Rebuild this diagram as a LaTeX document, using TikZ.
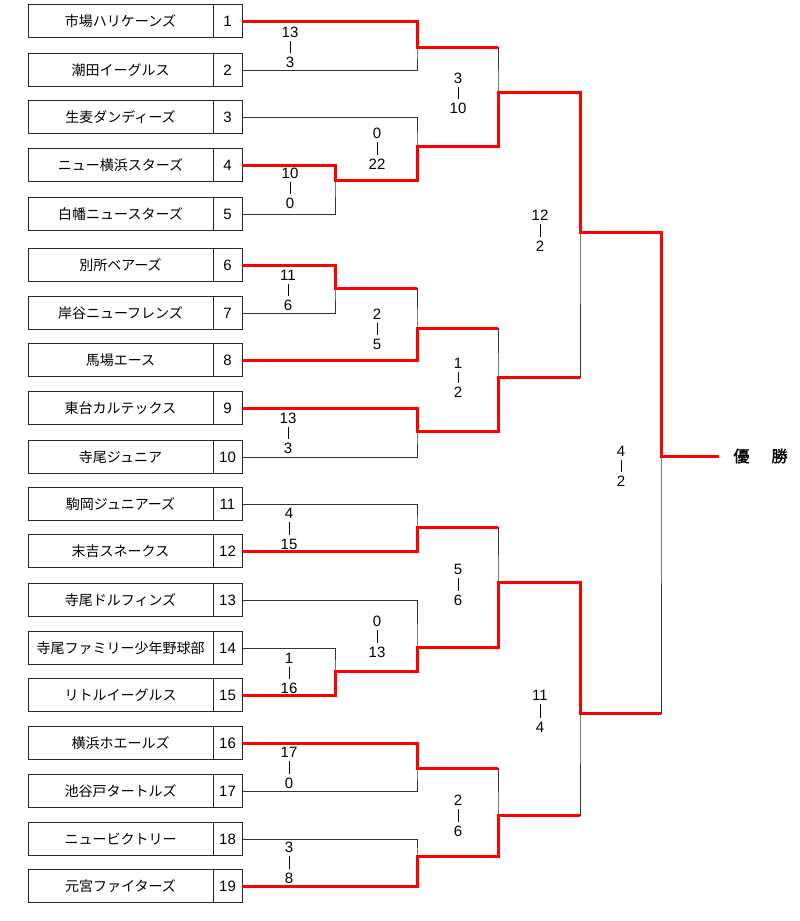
\documentclass[tikz,border=0pt]{standalone}
\usepackage{fontspec}
\setmainfont{Liberation Sans}
\newfontfamily\jp{Noto Sans CJK JP}
\newfontfamily\jpb[FakeBold=1.5]{Noto Sans CJK JP}
\usetikzlibrary{positioning}

\tikzset{
  namebox/.style={draw=black!85, line width=0.8pt, minimum width=185pt, minimum height=33pt, inner sep=0pt, font=\jp\fontsize{14}{14}\selectfont},
  numbox/.style={draw=black!85, line width=0.8pt, minimum width=29pt, minimum height=33pt, inner sep=0pt, font=\fontsize{15}{15}\selectfont},
  bk/.style={black!80, line width=0.8pt},
  win/.style={red, line width=3pt},
  pts/.style={inner sep=3.5pt, font=\fontsize{15}{15}\selectfont},
}

\begin{document}
\begin{tikzpicture}[x=1pt, y=-1pt]
  \useasboundingbox (0,0) rectangle (800,921);

  % teams
  \foreach \i/\y/\team in {1/21/市場ハリケーンズ, 2/70/潮田イーグルス, 3/117/生麦ダンディーズ,
      4/165/ニュー横浜スターズ, 5/214/白幡ニュースターズ, 6/265/別所ベアーズ,
      7/313/岸谷ニューフレンズ, 8/360/馬場エース, 9/408/東台カルテックス,
      10/457/寺尾ジュニア, 11/504/駒岡ジュニアーズ, 12/551/末吉スネークス,
      13/600/寺尾ドルフィンズ, 14/648/寺尾ファミリー少年野球部, 15/695/リトルイーグルス,
      16/743/横浜ホエールズ, 17/791/池谷戸タートルズ, 18/839/ニュービクトリー,
      19/886/元宮ファイターズ} {
    \node[namebox] (t\i) at (120.5,\y) {\team};
    \node[numbox] (n\i) at (227.5,\y) {\i};
  }

  % match points
  \coordinate (m45) at (335,180);
  \coordinate (m67) at (335,288);
  \coordinate (m1415) at (335,671);
  \coordinate (m12) at (417,47);
  \coordinate (m345) at (417,146);
  \coordinate (m678) at (417,328);
  \coordinate (m910) at (417,431);
  \coordinate (m1112) at (417,527);
  \coordinate (m131415) at (417,647);
  \coordinate (m1617) at (417,768);
  \coordinate (m1819) at (417,856);
  \coordinate (mA) at (498,92);
  \coordinate (mB) at (498,377);
  \coordinate (mC) at (498,582);
  \coordinate (mD) at (498,815);
  \coordinate (mE) at (580,232);
  \coordinate (mF) at (580,713);
  \coordinate (fin) at (661,456);
  \coordinate (goal) at (719,456);

  % bracket
  \draw[bk] (n1.east) -| (m12) |- (n2.east);
  \draw[bk] (n4.east) -| (m45) |- (n5.east);
  \draw[bk] (n3.east) -| (m345) |- (m45);
  \draw[bk] (n6.east) -| (m67) |- (n7.east);
  \draw[bk] (m67) -| (m678) |- (n8.east);
  \draw[bk] (n9.east) -| (m910) |- (n10.east);
  \draw[bk] (n11.east) -| (m1112) |- (n12.east);
  \draw[bk] (n14.east) -| (m1415) |- (n15.east);
  \draw[bk] (n13.east) -| (m131415) |- (m1415);
  \draw[bk] (n16.east) -| (m1617) |- (n17.east);
  \draw[bk] (n18.east) -| (m1819) |- (n19.east);
  \draw[bk] (m12) -| (mA) |- (m345);
  \draw[bk] (m678) -| (mB) |- (m910);
  \draw[bk] (m1112) -| (mC) |- (m131415);
  \draw[bk] (m1617) -| (mD) |- (m1819);
  \draw[bk] (mA) -| (mE) |- (mB);
  \draw[bk] (mC) -| (mF) |- (mD);
  \draw[bk] (mE) -| (fin) |- (mF);

  % winners
  \draw[win] (n1.east) -| (m12) -- (m12 -| mA);
  \draw[win] (n4.east) -| (m45) -| (m345) -| (mA) -| (mE) -| (fin) -- (goal);
  \draw[win] (n6.east) -| (m67) -- (m67 -| m678);
  \draw[win] (n8.east) -| (m678) -- (m678 -| mB);
  \draw[win] (n9.east) -| (m910) -| (mB) -- (mB -| mE);
  \draw[win] (n12.east) -| (m1112) -- (m1112 -| mC);
  \draw[win] (n15.east) -| (m1415) -| (m131415) -| (mC) -| (mF) -- (mF -| fin);
  \draw[win] (n16.east) -| (m1617) -- (m1617 -| mD);
  \draw[win] (n19.east) -| (m1819) -| (mD) -- (mD -| mF);

  % scores
  \foreach \s/\x/\ya/\yb/\pa/\pb in {s12/290/32/62/13/3, s45/290/173/203/10/0,
      s345/377/133/164/0/22, sA/458/78/108/3/10, sE/540/215/246/12/2,
      s67/288/275/305/11/6, s678/377/314/344/2/5, sB/458/363/392/1/2,
      s910/288/418/448/13/3, sfin/621/451/481/4/2, s1112/289/513/544/4/15,
      sC/458/569/600/5/6, s131415/377/621/652/0/13, s1415/289/658/688/1/16,
      sF/540/695/727/11/4, s1617/289/752/783/17/0, sD/458/800/831/2/6,
      s1819/289/847/878/3/8} {
    \node[pts] (\s-t) at (\x,\ya) {\pa};
    \node[pts] (\s-b) at (\x,\yb) {\pb};
    \draw[black, line width=0.7pt] (\s-t) -- (\s-b);
  }

  \node[font=\jpb\fontsize{16}{16}\selectfont] (champ) at (760.5,456) {優\hspace{22pt}勝};
\end{tikzpicture}
\end{document}
